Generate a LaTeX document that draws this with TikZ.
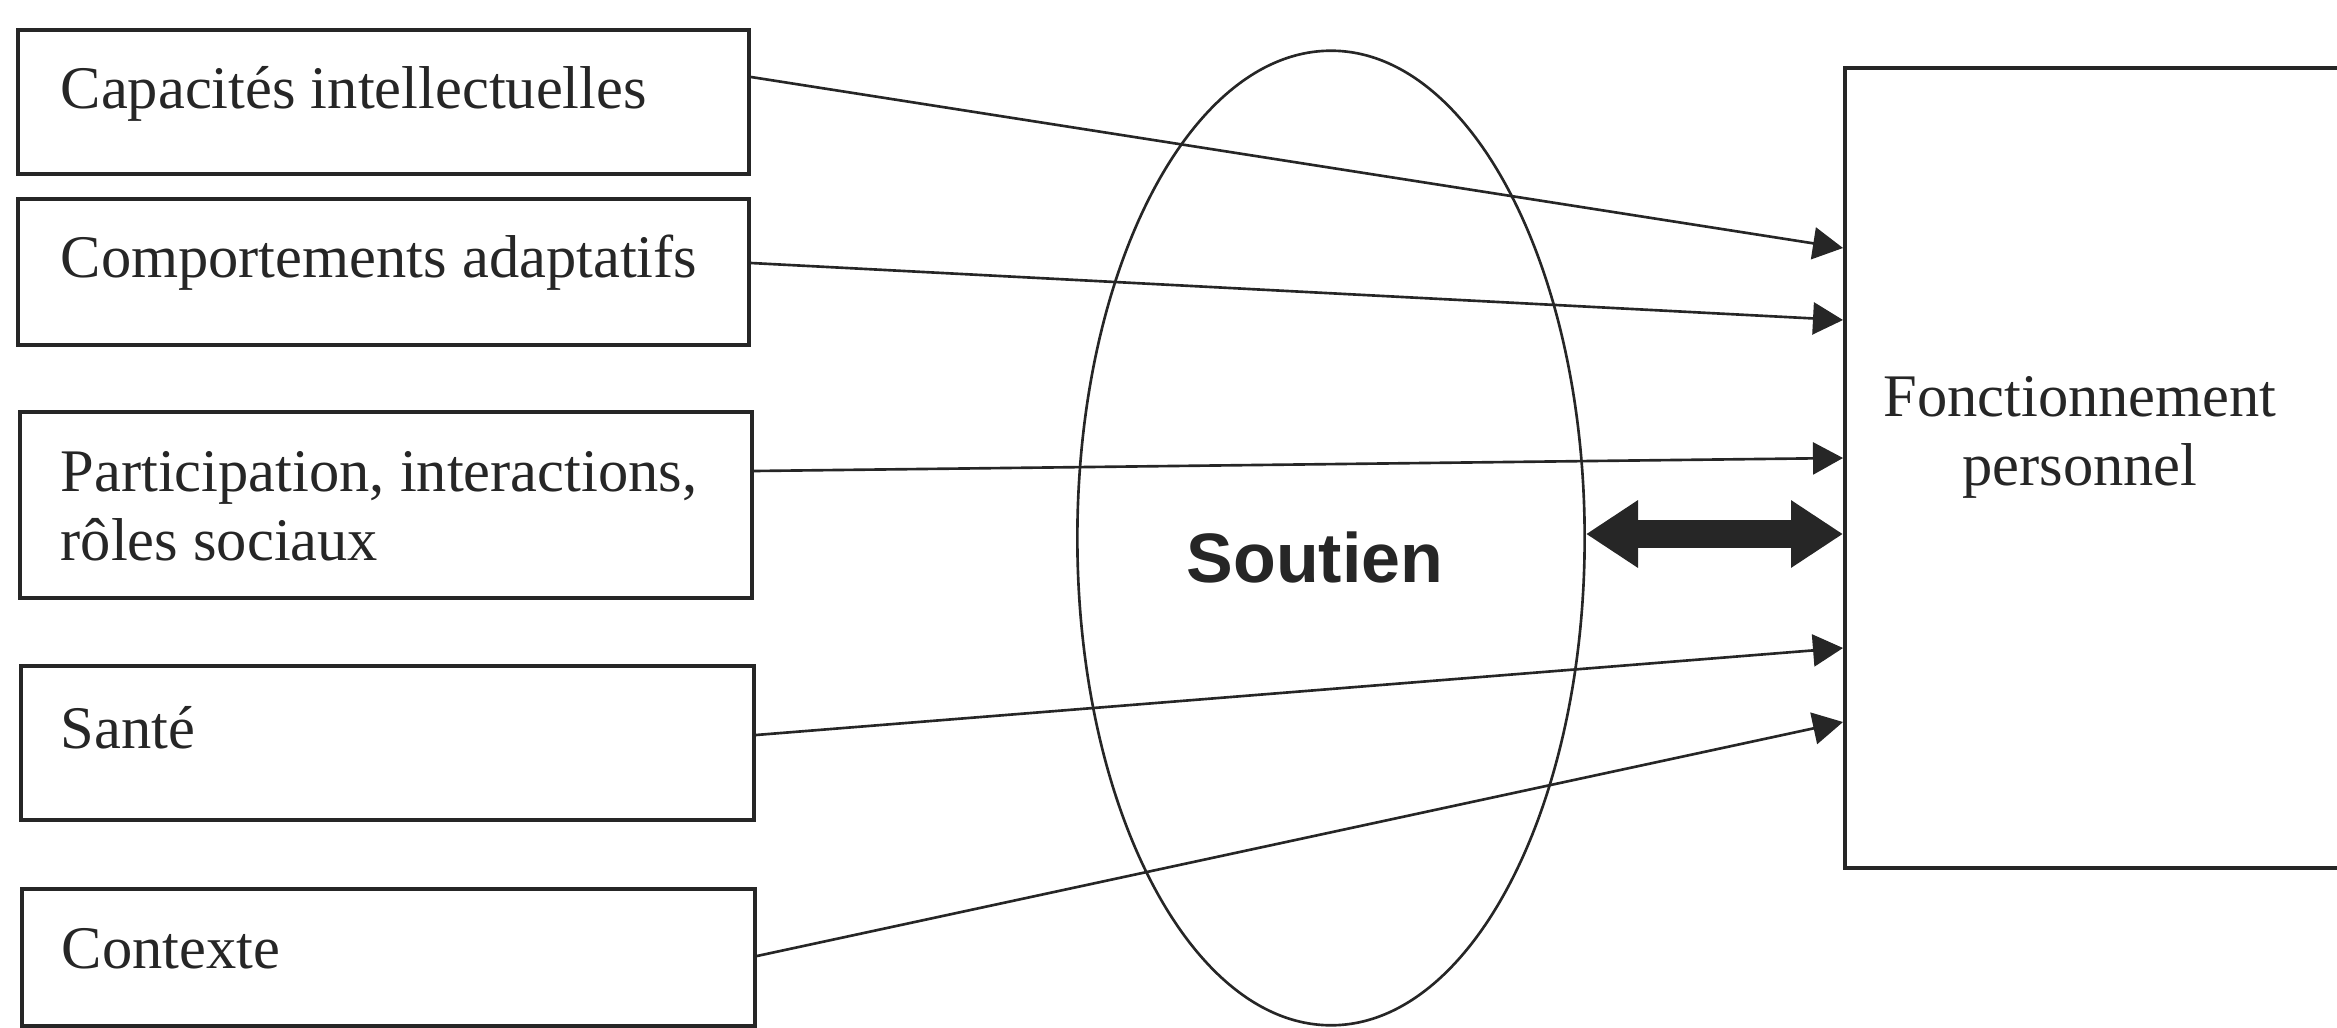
\documentclass[tikz,border=0pt]{standalone}
\usepackage{fontspec}
\setmainfont{Liberation Serif}
\newfontfamily\soutienfont{Liberation Sans}
\usetikzlibrary{arrows.meta,shapes.geometric}
\definecolor{ink}{HTML}{262626}
\begin{document}
\begin{tikzpicture}[x=0.01cm,y=-0.01cm,
  box/.style={draw=ink, line width=1pt, rectangle, inner sep=0pt, anchor=north west},
  lbl/.style={text=ink, inner sep=0pt, font=\fontsize{17.2}{19.6}\selectfont},
  conn/.style={draw=ink, line width=0.75pt, -{Triangle[length=3mm,width=3.2mm]}},
  bigarrow/.style={draw=ink, line width=2.8mm, {Triangle[length=5.2mm,width=6.4mm]}-{Triangle[length=5.2mm,width=6.4mm]}},
  oval/.style={draw=ink, line width=0.75pt, ellipse, inner sep=0pt}]
\useasboundingbox (0,0) rectangle (2337,1027);
\clip (0,0) rectangle (2337,1027);
% left boxes
\node[box, minimum width=7.31cm, minimum height=1.44cm] (b1) at (16,28) {};
\node[box, minimum width=7.31cm, minimum height=1.46cm] (b2) at (16,197) {};
\node[box, minimum width=7.32cm, minimum height=1.86cm] (b3) at (18,410) {};
\node[box, minimum width=7.33cm, minimum height=1.54cm] (b4) at (19,664) {};
\node[box, minimum width=7.33cm, minimum height=1.37cm] (b5) at (20,887) {};
\node[lbl, anchor=base west] (t1) at (60,108) {Capacités intellectuelles};
\node[lbl, anchor=base west] (t2) at (60,277) {Comportements adaptatifs};
\node[lbl, anchor=base west, align=left] (t3) at (60,560) {Participation, interactions,\\rôles sociaux};
\node[lbl, anchor=base west] (t4) at (60,748) {Santé};
\node[lbl, anchor=base west] (t5) at (61,968) {Contexte};
% right box
\node[box, minimum width=6cm, minimum height=8.00cm] (fb) at (1843,66) {};
\node[lbl, anchor=base, align=center] (tf) at (2080,485) {Fonctionnement\\personnel};
% ellipse
\node[oval, minimum width=5.07cm, minimum height=9.74cm] (ell) at (1331,538) {};
\node[text=ink, inner sep=0pt, anchor=base, font=\soutienfont\bfseries\fontsize{19.9}{24}\selectfont] (sou) at (1315,582) {Soutien};
% connector levels
\coordinate (s1) at (747,77);   \coordinate (e1) at (1843,248);
\coordinate (s2) at (747,263);  \coordinate (e2) at (1843,320);
\coordinate (s3) at (750,471);  \coordinate (e3) at (1843,458);
\coordinate (s4) at (752,735);  \coordinate (e4) at (1843,648);
\coordinate (s5) at (753,956);  \coordinate (e5) at (1843,722);
\coordinate (da) at (1585,534);
\draw[conn] (b1.east |- s1) -- (fb.west |- e1);
\draw[conn] (b2.east |- s2) -- (fb.west |- e2);
\draw[conn] (b3.east |- s3) -- (fb.west |- e3);
\draw[conn] (b4.east |- s4) -- (fb.west |- e4);
\draw[conn] (b5.east |- s5) -- (fb.west |- e5);
% double arrow
\draw[bigarrow] (ell.east |- da) -- (fb.west |- da);
\end{tikzpicture}
\end{document}
